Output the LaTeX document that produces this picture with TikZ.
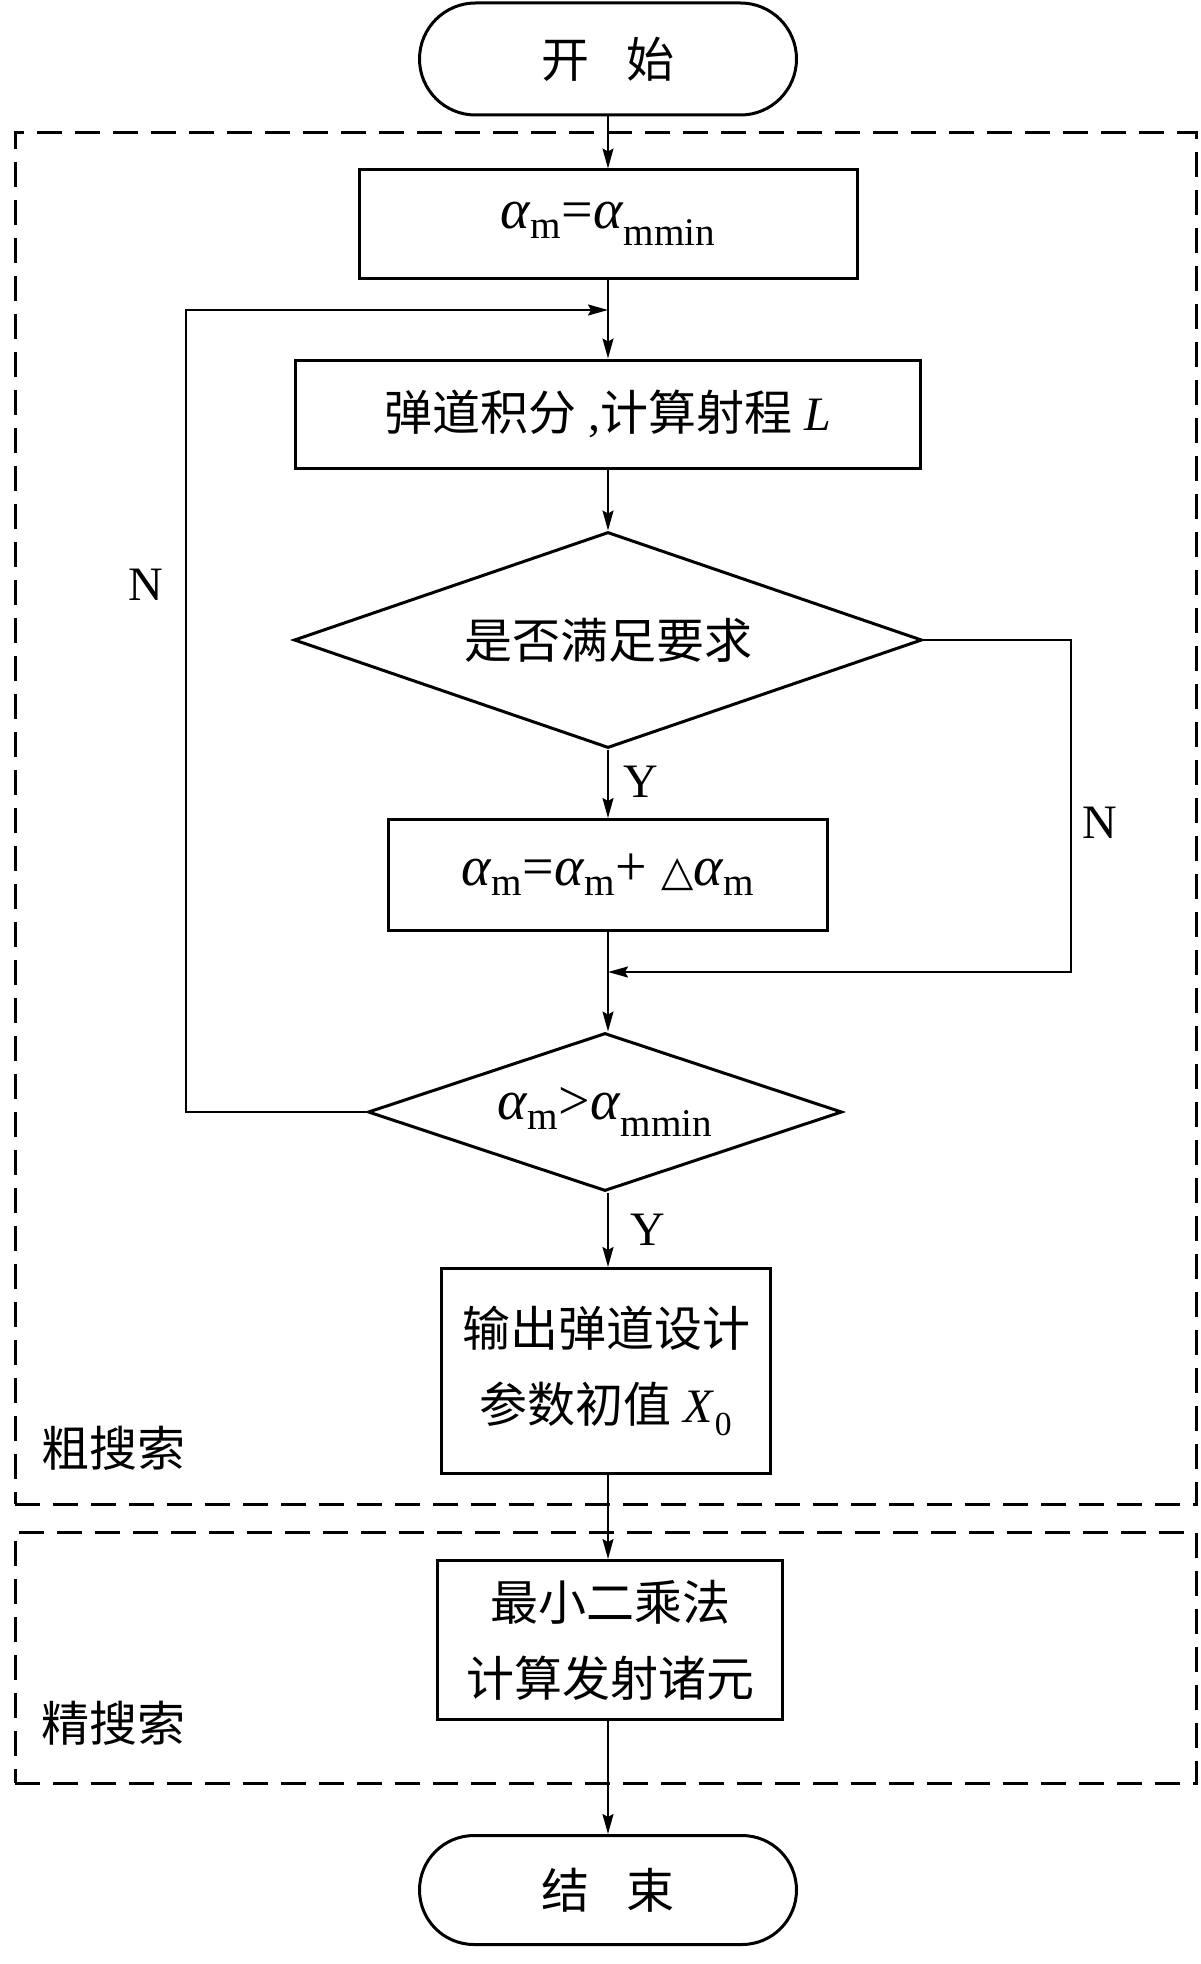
\documentclass[tikz,border=0pt]{standalone}
\usepackage{fontspec}
\setmainfont{Liberation Serif}
\newfontfamily\cjk{Noto Sans CJK SC}
\newfontfamily\symf{DejaVu Sans}
\usetikzlibrary{shapes.geometric,shapes.misc,arrows.meta}
\newcommand\am{\textit{α}\textsubscript{m}}
\newcommand\ammin{\textit{α}\textsubscript{mmin}}
\newcommand\mfont{\fontsize{56}{76}\selectfont}
\begin{document}
\begin{tikzpicture}[x=1pt,y=-1pt,
  font=\fontsize{48}{76}\selectfont,
  proc/.style={draw, line width=3pt, inner sep=0pt, align=center},
  term/.style={rounded rectangle, draw, line width=3pt, inner sep=0pt, minimum width=377pt, minimum height=112pt},
  dec/.style={diamond, draw, line width=3pt, aspect=3, inner sep=0pt},
  grp/.style={draw, line width=3pt, dash pattern=on 25pt off 13pt, inner sep=0pt},
  arr/.style={line width=2pt, -{Stealth[length=20pt,width=11pt,inset=3pt]}},
  lbl/.style={inner sep=0pt}]
\useasboundingbox (0,0) rectangle (1200,1964);

% group frames
\node[grp, minimum width=1181pt, minimum height=1371pt] (g1) at (605.5,818.5) {};
\node[grp, minimum width=1181pt, minimum height=251pt] (g2) at (605.5,1657.5) {};

% nodes
\node[term] (st) at (608,59) {{\cjk 开}\hspace{38pt}{\cjk 始}};
\node[proc, minimum width=498pt, minimum height=108pt] (b1) at (608,224) {\mfont\am=\ammin};
\coordinate (j1) at (608,310);
\node[proc, minimum width=625pt, minimum height=108pt] (b2) at (608,414) {{\cjk 弹道积分} ,{\cjk 计算射程} \textit{L}};
\node[dec, minimum width=628pt, minimum height=216pt] (d1) at (608,640) {{\cjk 是否满足要求}};
\node[proc, minimum width=439pt, minimum height=111pt] (b3) at (608,875) {\mfont\am=\am+ {\symf\fontsize{42}{42}\selectfont △}\am};
\coordinate (j2) at (608,972);
\node[dec, minimum width=474pt, minimum height=158pt] (d2) at (605,1112) {\mfont\am{>}\ammin};
\node[proc, minimum width=329pt, minimum height=205pt] (b4) at (606,1371) {{\cjk 输出弹道设计}\\{\cjk 参数初值} \textit{X}\textsubscript{0}};
\node[proc, minimum width=345pt, minimum height=159pt] (b5) at (610,1640) {{\cjk 最小二乘法}\\{\cjk 计算发射诸元}};
\node[term, minimum height=109pt] (en) at (608,1890) {{\cjk 结}\hspace{38pt}{\cjk 束}};

\coordinate (lx) at (186,0);
\coordinate (rx) at (1071,0);

% connectors
\draw[arr] (st.south) -- (b1.north);
\draw[arr] (b1.south) -- (b2.north);
\draw[arr] (b2.south) -- (d1.north);
\draw[arr] (d1.south) -- (b3.north);
\draw[arr] (b3.south) -- (b3.south |- d2.north);
\draw[arr] (b3.south |- d2.south) -- (b3.south |- b4.north);
\draw[arr] (b3.south |- b4.south) -- (b3.south |- b5.north);
\draw[arr] (b3.south |- b5.south) -- (en.north);
\draw[arr] (d2.west) -- (d2.west -| lx) |- (j1);
\draw[arr] (d1.east) -- (d1.east -| rx) |- (j2);

% labels
\node[lbl] (n1) at (146,585) {N};
\node[lbl] (n2) at (1100,823) {N};
\node[lbl] (y1) at (641,782) {Y};
\node[lbl] (y2) at (648,1230) {Y};
\node[lbl] (c1) at (113,1448) {{\cjk 粗搜索}};
\node[lbl] (c2) at (113,1723) {{\cjk 精搜索}};
\end{tikzpicture}
\end{document}
